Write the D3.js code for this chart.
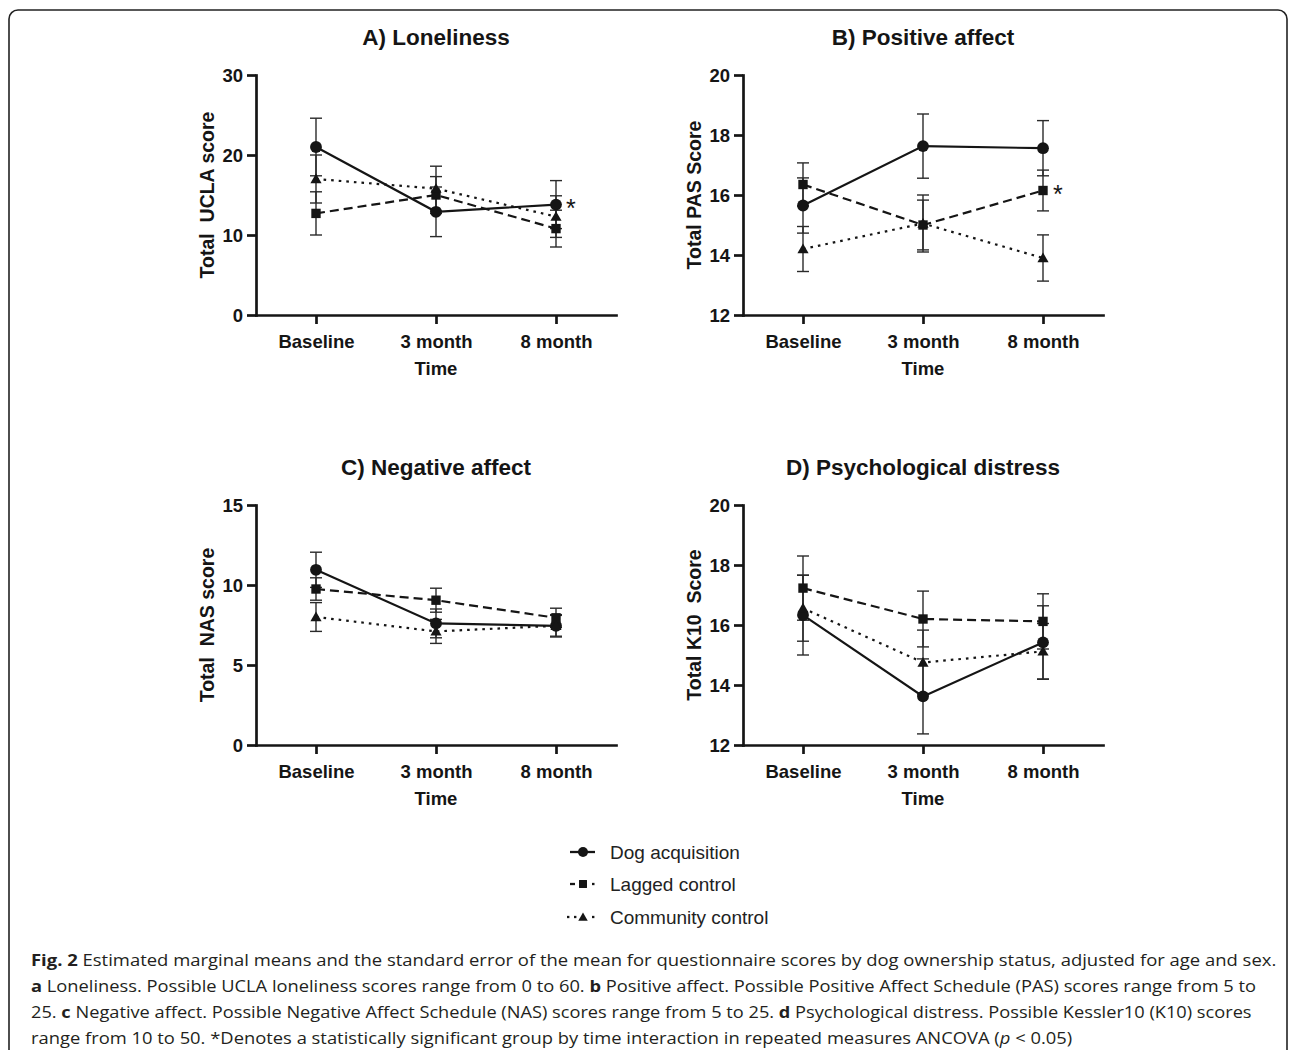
<!DOCTYPE html>
<html>
<head>
<meta charset="utf-8">
<script src="https://cdn.jsdelivr.net/npm/d3@7"></script>
<style>
  html, body { margin: 0; padding: 0; background: #fff; }
  svg { display: block; }
</style>
</head>
<body>
<svg id="chart" width="1290" height="1050"></svg>
<script>
// ---------------- DATA ----------------
const categories = ["Baseline", "3 month", "8 month"];
const groups = ["Dog acquisition", "Lagged control", "Community control"];

// A) Loneliness
const lonelinessTicks = [0, 10, 20, 30];
const lonelinessDog = [21.0, 12.9, 13.8];
const lonelinessDogSE = [3.6, 3.1, 3.0];
const lonelinessLagged = [12.7, 15.0, 10.8];
const lonelinessLaggedSE = [2.7, 2.3, 2.3];
const lonelinessCommunity = [17.0, 15.8, 12.3];
const lonelinessCommunitySE = [3.0, 2.8, 2.6];

// B) Positive affect
const positiveTicks = [12, 14, 16, 18, 20];
const positiveDog = [15.65, 17.63, 17.56];
const positiveDogSE = [0.92, 1.07, 0.92];
const positiveLagged = [16.35, 15.0, 16.15];
const positiveLaggedSE = [0.72, 0.83, 0.68];
const positiveCommunity = [14.2, 15.05, 13.9];
const positiveCommunitySE = [0.75, 0.95, 0.77];

// C) Negative affect
const negativeTicks = [0, 5, 10, 15];
const negativeDog = [10.95, 7.6, 7.45];
const negativeDogSE = [1.1, 0.9, 0.7];
const negativeLagged = [9.75, 9.05, 7.95];
const negativeLaggedSE = [0.7, 0.75, 0.6];
const negativeCommunity = [8.0, 7.1, 7.45];
const negativeCommunitySE = [0.9, 0.75, 0.65];

// D) Psychological distress
const distressTicks = [12, 14, 16, 18, 20];
const distressDog = [16.33, 13.62, 15.42];
const distressDogSE = [1.33, 1.25, 1.22];
const distressLagged = [17.23, 16.2, 16.12];
const distressLaggedSE = [1.07, 0.93, 0.92];
const distressCommunity = [16.56, 14.75, 15.12];
const distressCommunitySE = [1.1, 1.08, 0.93];

const panelTitles = ["A) Loneliness", "B) Positive affect", "C) Negative affect", "D) Psychological distress"];
const panelYLabels = ["Total  UCLA score", "Total PAS Score", "Total  NAS score", "Total K10  Score"];
// significance markers: [panel index, group index, category index]
const significance = [[0, 0, 2], [1, 1, 2]];

// ---------------- DRAW ----------------
const svg = d3.select("#chart");
const INK = "#151515";
const FONT = "'Liberation Sans', Arial, Helvetica, sans-serif";

// outer frame
svg.append("rect")
  .attr("x", 9).attr("y", 10).attr("width", 1278).attr("height", 1120)
  .attr("rx", 9).attr("ry", 9)
  .attr("fill", "none").attr("stroke", "#222").attr("stroke-width", 1.6);

const styles = [
  { symbol: d3.symbolCircle, size: 110, dash: null },
  { symbol: d3.symbolSquare, size: 88, dash: "9,5" },
  { symbol: d3.symbolTriangle, size: 54, dash: "2.6,5" }
];

const panels = [
  { x0: 256, top: 75, bottom: 315, domain: [0, 30], ticks: lonelinessTicks,
    means: [lonelinessDog, lonelinessLagged, lonelinessCommunity],
    ses: [lonelinessDogSE, lonelinessLaggedSE, lonelinessCommunitySE] },
  { x0: 743, top: 75, bottom: 315, domain: [12, 20], ticks: positiveTicks,
    means: [positiveDog, positiveLagged, positiveCommunity],
    ses: [positiveDogSE, positiveLaggedSE, positiveCommunitySE] },
  { x0: 256, top: 505, bottom: 745, domain: [0, 15], ticks: negativeTicks,
    means: [negativeDog, negativeLagged, negativeCommunity],
    ses: [negativeDogSE, negativeLaggedSE, negativeCommunitySE] },
  { x0: 743, top: 505, bottom: 745, domain: [12, 20], ticks: distressTicks,
    means: [distressDog, distressLagged, distressCommunity],
    ses: [distressDogSE, distressLaggedSE, distressCommunitySE] }
];

panels.forEach((p, pi) => {
  const g = svg.append("g");
  const x = d3.scalePoint().domain(categories).range([p.x0, p.x0 + 360]).padding(0.5);
  const y = d3.scaleLinear().domain(p.domain).range([p.bottom, p.top]);

  // axes
  const yAxis = d3.axisLeft(y).tickValues(p.ticks).tickSize(9).tickSizeOuter(0).tickPadding(4);
  const ya = g.append("g").attr("transform", `translate(${p.x0},0)`).call(yAxis);
  const xAxis = d3.axisBottom(x).tickSize(9).tickSizeOuter(0).tickPadding(6);
  const xa = g.append("g").attr("transform", `translate(0,${p.bottom})`).call(xAxis);
  [ya, xa].forEach(a => {
    a.select(".domain").attr("stroke", INK).attr("stroke-width", 2.7).attr("stroke-linecap", "square");
    a.selectAll(".tick line").attr("stroke", INK).attr("stroke-width", 2.7);
    a.selectAll(".tick text").attr("fill", INK).attr("font-family", FONT)
      .attr("font-weight", "bold").attr("font-size", 18.5);
  });
  xa.selectAll(".tick text").attr("dy", "0.95em");
  ya.selectAll(".tick text").attr("dy", "0.36em");

  // title
  g.append("text").attr("x", x(categories[1])).attr("y", p.top - 30)
    .attr("text-anchor", "middle").attr("font-family", FONT).attr("font-weight", "bold")
    .attr("font-size", 22.5).attr("fill", INK).text(panelTitles[pi]);

  // x label
  g.append("text").attr("x", x(categories[1])).attr("y", p.bottom + 60)
    .attr("text-anchor", "middle").attr("font-family", FONT).attr("font-weight", "bold")
    .attr("font-size", 18.5).attr("fill", INK).text("Time");

  // y label
  g.append("text")
    .attr("transform", `translate(${p.x0 - 42},${(p.top + p.bottom) / 2}) rotate(-90)`)
    .attr("text-anchor", "middle").attr("font-family", FONT).attr("font-weight", "bold")
    .attr("font-size", 19.5).attr("fill", INK).attr("xml:space", "preserve")
    .style("white-space", "pre").text(panelYLabels[pi]);

  // error bars
  groups.forEach((grp, gi) => {
    const eb = g.append("g").attr("stroke", "#2a2a2a").attr("stroke-width", 1.4).attr("fill", "none");
    categories.forEach((c, ci) => {
      const m = p.means[gi][ci], s = p.ses[gi][ci];
      const cx = x(c);
      eb.append("line").attr("x1", cx).attr("x2", cx).attr("y1", y(m - s)).attr("y2", y(m + s));
      eb.append("line").attr("x1", cx - 6).attr("x2", cx + 6).attr("y1", y(m - s)).attr("y2", y(m - s));
      eb.append("line").attr("x1", cx - 6).attr("x2", cx + 6).attr("y1", y(m + s)).attr("y2", y(m + s));
    });
  });

  // lines
  const line = d3.line().x((d, i) => x(categories[i])).y(d => y(d));
  groups.forEach((grp, gi) => {
    g.append("path").datum(p.means[gi]).attr("d", line)
      .attr("fill", "none").attr("stroke", INK).attr("stroke-width", 2.2)
      .attr("stroke-dasharray", styles[gi].dash);
  });

  // markers
  groups.forEach((grp, gi) => {
    const sym = d3.symbol().type(styles[gi].symbol).size(styles[gi].size);
    g.selectAll(null).data(p.means[gi]).enter().append("path")
      .attr("d", sym)
      .attr("transform", (d, i) => `translate(${x(categories[i])},${y(d) + (gi === 2 ? 1 : 0)})`)
      .attr("fill", INK);
  });

  // significance asterisks
  significance.filter(s => s[0] === pi).forEach(s => {
    const v = p.means[s[1]][s[2]];
    g.append("text").attr("x", x(categories[s[2]]) + 10).attr("y", y(v) + 12)
      .attr("font-family", FONT).attr("font-size", 25).attr("fill", INK).text("*");
  });
});

// ---------------- LEGEND ----------------
const legend = svg.append("g");
const legendRows = [852, 884, 917];
groups.forEach((grp, gi) => {
  const ly = legendRows[gi];
  const lg = legend.append("g");
  if (gi === 0) {
    lg.append("line").attr("x1", 570).attr("x2", 595).attr("y1", ly).attr("y2", ly)
      .attr("stroke", INK).attr("stroke-width", 2.3);
  } else if (gi === 1) {
    lg.append("line").attr("x1", 570).attr("x2", 575).attr("y1", ly).attr("y2", ly)
      .attr("stroke", INK).attr("stroke-width", 2.3);
    lg.append("line").attr("x1", 592).attr("x2", 594.5).attr("y1", ly).attr("y2", ly)
      .attr("stroke", INK).attr("stroke-width", 2.3);
  } else {
    [567, 574, 592].forEach(dx => {
      lg.append("line").attr("x1", dx).attr("x2", dx + 2.4).attr("y1", ly).attr("y2", ly)
        .attr("stroke", INK).attr("stroke-width", 2.3);
    });
  }
  const sym = d3.symbol().type(styles[gi].symbol).size(styles[gi].size * 0.72);
  lg.append("path").attr("d", sym)
    .attr("transform", `translate(583,${ly + (gi === 2 ? 1 : 0)})`).attr("fill", INK);
  lg.append("text").attr("x", 610).attr("y", ly + 6.5)
    .attr("font-family", FONT).attr("font-size", 19).attr("fill", "#222").text(grp);
});

// ---------------- CAPTION ----------------
const captionLines = [
  [["Fig. 2", "b"], [" Estimated marginal means and the standard error of the mean for questionnaire scores by dog ownership status, adjusted for age and sex.", "n"]],
  [["a", "b"], [" Loneliness. Possible UCLA loneliness scores range from 0 to 60. ", "n"], ["b", "b"], [" Positive affect. Possible Positive Affect Schedule (PAS) scores range from 5 to", "n"]],
  [["25. ", "n"], ["c", "b"], [" Negative affect. Possible Negative Affect Schedule (NAS) scores range from 5 to 25. ", "n"], ["d", "b"], [" Psychological distress. Possible Kessler10 (K10) scores", "n"]],
  [["range from 10 to 50. *Denotes a statistically significant group by time interaction in repeated measures ANCOVA (", "n"], ["p", "i"], [" < 0.05)", "n"]]
];
const captionWidths = [1246, 1226, 1221, 1042];
const captionBaselines = [966, 992, 1017.5, 1043.5];
captionLines.forEach((parts, li) => {
  const t = svg.append("text")
    .attr("font-family", "'Open Sans', 'Noto Sans', sans-serif")
    .attr("font-size", 15.5).attr("fill", "#231f20")
    .attr("xml:space", "preserve").style("white-space", "pre");
  parts.forEach(([s, f]) => {
    const ts = t.append("tspan").text(s);
    if (f === "b") ts.attr("font-weight", "bold");
    if (f === "i") ts.attr("font-style", "italic");
  });
  const w = t.node().getComputedTextLength();
  const k = captionWidths[li] / w;
  t.attr("transform", `translate(31,${captionBaselines[li]}) scale(${k},1)`);
});
</script>
</body>
</html>
